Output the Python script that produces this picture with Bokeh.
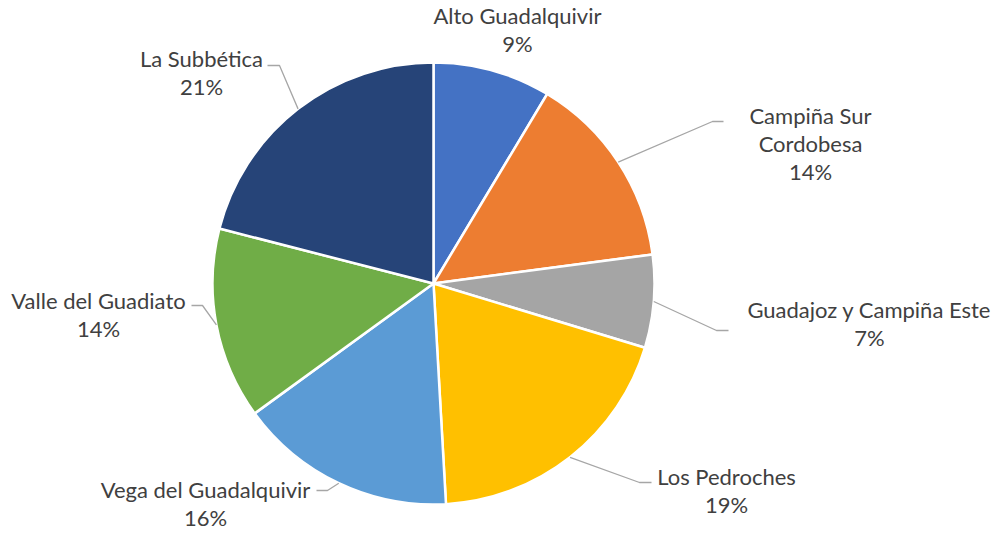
import math
from bokeh.plotting import figure
from bokeh.models import Range1d, ColumnDataSource
from bokeh.core.properties import value
from bokeh.embed import file_html
from bokeh.resources import INLINE

# ---- data ----
categories = ["Alto Guadalquivir", "Campiña Sur Cordobesa", "Guadajoz y Campiña Este",
              "Los Pedroches", "Vega del Guadalquivir", "Valle del Guadiato", "La Subbética"]
shares = [8.6, 14.3, 6.8, 19.4, 15.9, 14.0, 21.0]
colors = ["#4472C4", "#ED7D31", "#A5A5A5", "#FFC000", "#5B9BD5", "#70AD47", "#264478"]

# ---- layout (reference pixel coordinates) ----
CX, CY, R = 439, 290, 221
label_lines = [["Alto Guadalquivir"], ["Campiña Sur", "Cordobesa"], ["Guadajoz y Campiña Este"],
               ["Los Pedroches"], ["Vega del Guadalquivir"], ["Valle del Guadiato"], ["La Subbética"]]
label_center = [(523, 36), (816, 150), (875, 330), (732, 497), (211, 510), (104, 321), (207, 79)]
# leader elbows: (elbow point, end point) or None
leaders = [None, ((718, 128), (729, 128)), ((722, 337), (734, 337)), ((645, 489), (657, 489)),
           ((333, 497), (322, 497)), ((208, 312), (197, 312)), ((285, 72), (273, 72))]
LINE_H = 28
OFF_X, OFF_Y = 6, 7  # reference pixel shown at the figure's top-left corner


def to_xy(X, Y):
    return X - CX, CY - Y


total = sum(shares)
starts, ends, mids = [], [], []
cum = 0.0
for s in shares:
    a0 = math.pi / 2 - 2 * math.pi * cum / total
    cum += s
    a1 = math.pi / 2 - 2 * math.pi * cum / total
    starts.append(a0)
    ends.append(a1)
    mids.append((a0 + a1) / 2)

W, H = 992, 535
p = figure(width=W, height=H, x_range=Range1d(OFF_X - CX, OFF_X + W - CX),
           y_range=Range1d(CY - (OFF_Y + H), CY - OFF_Y),
           output_backend="svg", toolbar_location=None, x_axis_type=None, y_axis_type=None,
           min_border=0, outline_line_color=None, background_fill_color="white",
           border_fill_color="white")
p.grid.visible = False

src = ColumnDataSource(dict(start=starts, end=ends, color=colors, name=categories))
p.wedge(x=0, y=0, radius=R, start_angle="start", end_angle="end", direction="clock",
        fill_color="color", line_color="white", line_width=2.5, source=src)

# leader lines
for i, ld in enumerate(leaders):
    if ld is None:
        continue
    ex, ey = R * math.cos(mids[i]), R * math.sin(mids[i])
    (bx, by), (fx, fy) = ld
    b = to_xy(bx, by)
    f = to_xy(fx, fy)
    p.line([ex, b[0], f[0]], [ey, b[1], f[1]], line_color="#A6A6A6", line_width=1.3)

# labels
tx, ty, tt = [], [], []
for i, lines in enumerate(label_lines):
    pct = f"{round(shares[i] / total * 100)}%"
    rows = lines + [pct]
    cx, cy = label_center[i]
    n = len(rows)
    for k, r in enumerate(rows):
        Y = cy + (k - (n - 1) / 2) * LINE_H
        x, y = to_xy(cx, Y)
        tx.append(x)
        ty.append(y)
        tt.append(r)
p.text(x=tx, y=ty, text=tt, text_align="center", text_baseline="middle",
       text_font=value("Lato"), text_font_size="22px", text_color="#404040")

open("out.html", "w").write(file_html(p, INLINE))
